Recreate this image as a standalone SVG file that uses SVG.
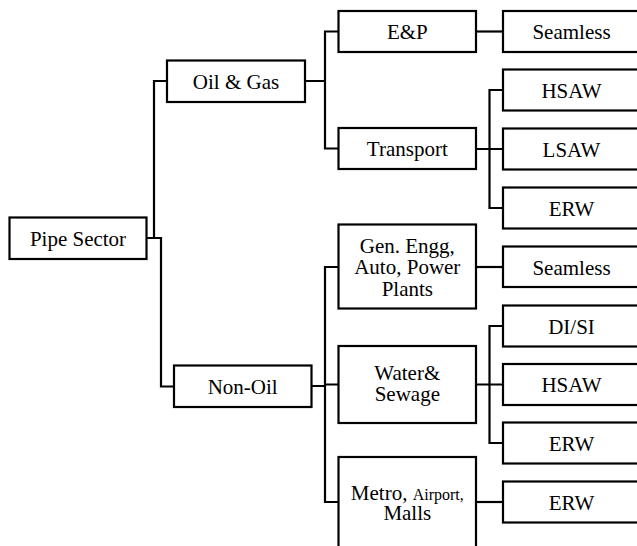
<svg xmlns="http://www.w3.org/2000/svg" width="637" height="546" viewBox="0 0 637 546">
<style>
rect{fill:#fff;stroke:#000;stroke-width:2.2}
.c{fill:none;stroke:#000;stroke-width:2.2}
.t{font-size:21px;fill:#000;text-anchor:middle}
.s{font-size:16px}
</style>
<rect x="0" y="0" width="637" height="546" style="fill:#fff;stroke:none"/>
<g id="connectors">
<path class="c" d="M167,81 H154 V238 M147,238 H161 V386.5 H174"/>
<path class="c" d="M305,81 H325 M338.5,31.5 H325 V148.5 H338.5"/>
<path class="c" d="M476,31.5 H503"/>
<path class="c" d="M476,149 H503 M503,90 H489.5 V208 H503"/>
<path class="c" d="M311.5,386 H325 M338.5,267 H325 V502 H338.5 M325,384.5 H338.5"/>
<path class="c" d="M476,267 H503"/>
<path class="c" d="M476,384.5 H503 M503,326 H489.5 V443 H503"/>
<path class="c" d="M476,502 H503"/>
</g>
<g class="t" font-family="'Liberation Serif', 'Times New Roman', 'DejaVu Serif', serif">
<g id="pipe-sector"><rect x="9.5" y="217.5" width="137" height="41.5"/><text x="78" y="245.5">Pipe Sector</text></g>
<g id="oil-gas"><rect x="167" y="60.5" width="138" height="41.5"/><text x="236" y="88.5">Oil &amp; Gas</text></g>
<g id="non-oil"><rect x="174" y="365.5" width="137.5" height="41.5"/><text x="242.7" y="393.5">Non-Oil</text></g>
<g id="ep"><rect x="338.5" y="11" width="137.5" height="41"/><text x="407.3" y="39">E&amp;P</text></g>
<g id="transport"><rect x="338.5" y="128" width="137.5" height="41"/><text x="407.3" y="156">Transport</text></g>
<g id="gen-engg"><rect x="338.5" y="224.5" width="137.5" height="84"/><text x="407.3" y="252.5">Gen. Engg,</text><text x="407.3" y="274">Auto, Power</text><text x="407.3" y="295.5">Plants</text></g>
<g id="water"><rect x="338.5" y="346" width="137.5" height="77"/><text x="407.3" y="380">Water&amp;</text><text x="407.3" y="401">Sewage</text></g>
<g id="metro"><rect x="338.5" y="457" width="137.5" height="100"/><text x="407.3" y="499.5">Metro, <tspan class="s">Airport,</tspan></text><text x="407.3" y="520">Malls</text></g>
<g id="seamless-1"><rect x="503" y="11" width="137" height="41"/><text x="571.5" y="39">Seamless</text></g>
<g id="hsaw-1"><rect x="503" y="69.5" width="137" height="41"/><text x="571.5" y="97.5">HSAW</text></g>
<g id="lsaw"><rect x="503" y="128.5" width="137" height="41"/><text x="571.5" y="156.5">LSAW</text></g>
<g id="erw-1"><rect x="503" y="187.5" width="137" height="41"/><text x="571.5" y="215.5">ERW</text></g>
<g id="seamless-2"><rect x="503" y="246.5" width="137" height="40.5"/><text x="571.5" y="274.5">Seamless</text></g>
<g id="disi"><rect x="503" y="305.5" width="137" height="41"/><text x="571.5" y="333.5">DI/SI</text></g>
<g id="hsaw-2"><rect x="503" y="364" width="137" height="41"/><text x="571.5" y="392">HSAW</text></g>
<g id="erw-2"><rect x="503" y="422.5" width="137" height="41"/><text x="571.5" y="450.5">ERW</text></g>
<g id="erw-3"><rect x="503" y="481.5" width="137" height="41"/><text x="571.5" y="509.5">ERW</text></g>
</g>
</svg>
